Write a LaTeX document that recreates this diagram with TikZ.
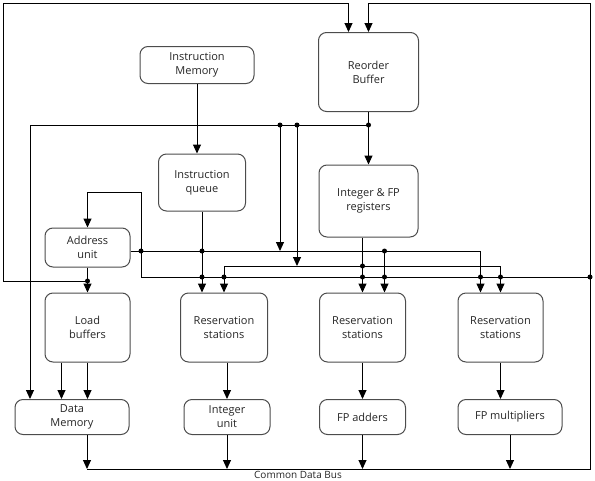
\documentclass[tikz,border=0pt]{standalone}
\usepackage{fontspec}
\setmainfont{Open Sans}
\usetikzlibrary{arrows.meta}
\tikzstyle{unit} = [rectangle, rounded corners=8pt, draw=black!70, line width=1pt, align=center, text=black!85, font=\fontsize{11}{14}\selectfont, inner sep=0pt]
\tikzstyle{bus} = [line width=1pt]
\tikzstyle{arrow} = [line width=1pt, -{Triangle[width=8pt,length=9pt]}]
\tikzstyle{dot} = [fill=black]

\begin{document}
\begin{tikzpicture}[x=1pt,y=-1pt]
            \useasboundingbox (0,0) rectangle (595,480);
            \node [unit, minimum width=114pt, minimum height=37pt] at (197,65) (imem) {Instruction\\Memory};
            \node [unit, minimum width=100pt, minimum height=79pt] at (368.5,72) (rob) {Reorder\\Buffer};
            \node [unit, minimum width=87pt, minimum height=57pt] at (202,182.5) (iq) {Instruction\\queue};
            \node [unit, minimum width=99pt, minimum height=72pt] at (368.5,201) (regs) {Integer \& FP\\registers};
            \node [unit, minimum width=85pt, minimum height=39pt] at (87.5,247.5) (addr) {Address\\unit};
            \node [unit, minimum width=85pt, minimum height=69pt] at (87.5,327.5) (loadbuf) {Load\\buffers};
            \node [unit, minimum width=87pt, minimum height=69pt] at (224,327.5) (rsint) {Reservation\\stations};
            \node [unit, minimum width=86pt, minimum height=69pt] at (362.5,327.5) (rsadd) {Reservation\\stations};
            \node [unit, minimum width=85pt, minimum height=69pt] at (500.5,327.5) (rsmul) {Reservation\\stations};
            \node [unit, minimum width=114pt, minimum height=35pt] at (72,417) (dmem) {Data\\Memory};
            \node [unit, minimum width=86pt, minimum height=35pt] at (227,417) (intunit) {Integer\\unit};
            \node [unit, minimum width=86pt, minimum height=35pt] at (362.5,417) (fpadd) {FP adders};
            \node [unit, minimum width=104pt, minimum height=35pt] at (510,417) (fpmul) {FP multipliers};
            \node [font=\fontsize{10}{12}\selectfont, text=black!85, anchor=base, inner sep=0pt] at (298,478) (cdblabel) {Common Data Bus};
            \coordinate (topl) at (3,3);
            \coordinate (topr) at (590,3);
            \coordinate (cdbl) at (87,469);
            \coordinate (cdbr) at (590,469);
            \coordinate (cdbj) at (590,277);
            \coordinate (cdbc) at (141,277);
            \coordinate (addrin) at (141,192);
            \coordinate (opj) at (141,251);
            \coordinate (oprj) at (384.5,251);
            \coordinate (operand) at (224,266);
            \coordinate (lbj) at (87.5,281);
            \coordinate (leftj) at (3,281);
            \coordinate (robj) at (368.5,125);
            \coordinate (robl) at (30,125);
            \coordinate (robj1) at (280,125);
            \coordinate (robj2) at (297,125);
            \draw [arrow] (cdbl) -- (cdbr) -- (topr) -| (rob.north);
            \draw [arrow] (lbj) -- (leftj) -- (topl) -| ([xshift=-20pt]rob.north);
            \draw [arrow] (imem.south) -- (imem.south |- iq.north);
            \draw [arrow] (rob.south) -- (regs.north);
            \draw [bus] (robl) -- (robj);
            \draw [arrow] (robl) -- (robl |- dmem.north);
            \draw [arrow] (robj1) -- (robj1 |- opj);
            \draw [arrow] (robj2) -- (robj2 |- operand);
            \draw [arrow] (cdbj) -- (cdbc) -- (addrin) -| (addr.north);
            \draw [arrow] (addr.east |- opj) -| ([xshift=-20pt]rsmul.north);
            \draw [arrow] (operand) -| (rsmul.north);
            \draw [arrow] (operand) -- (rsint.north);
            \draw [arrow] (iq.south) -- ([xshift=-22pt]rsint.north);
            \draw [arrow] ([xshift=-6pt]regs.south) -- ([xshift=-6pt]regs.south |- rsadd.north);
            \draw [arrow] (oprj) -- ([xshift=22pt]rsadd.north);
            \draw [arrow] (addr.south) -- (loadbuf.north);
            \draw [arrow] (loadbuf.south) -- (loadbuf.south |- dmem.north);
            \draw [arrow] ([xshift=-26pt]loadbuf.south) -- ([xshift=-26pt]loadbuf.south |- dmem.north);
            \draw [arrow] (rsint.south -| intunit.north) -- (intunit.north);
            \draw [arrow] (rsadd.south) -- (fpadd.north);
            \draw [arrow] (rsmul.south) -- (rsmul.south |- fpmul.north);
            \draw [arrow] (dmem.south -| cdbl) -- (cdbl);
            \draw [arrow] (intunit.south) -- (intunit.south |- cdbl);
            \draw [arrow] (fpadd.south) -- (fpadd.south |- cdbl);
            \draw [arrow] (fpmul.south) -- (fpmul.south |- cdbl);
            \fill [dot] (robj) circle (2.5pt) (robj1) circle (2.5pt) (robj2) circle (2.5pt)
                (lbj) circle (2.5pt) (cdbj) circle (2.5pt) (opj) circle (2.5pt) (oprj) circle (2.5pt)
                (iq.south |- opj) circle (2.5pt) (iq.south |- cdbj) circle (2.5pt)
                (operand |- cdbj) circle (2.5pt) (rsadd.north |- operand) circle (2.5pt)
                (rsadd.north |- cdbj) circle (2.5pt) (oprj |- cdbj) circle (2.5pt)
                ([xshift=-20pt]rsmul.north |- cdbj) circle (2.5pt) (rsmul.north |- cdbj) circle (2.5pt);
            \end{tikzpicture}
\end{document}
